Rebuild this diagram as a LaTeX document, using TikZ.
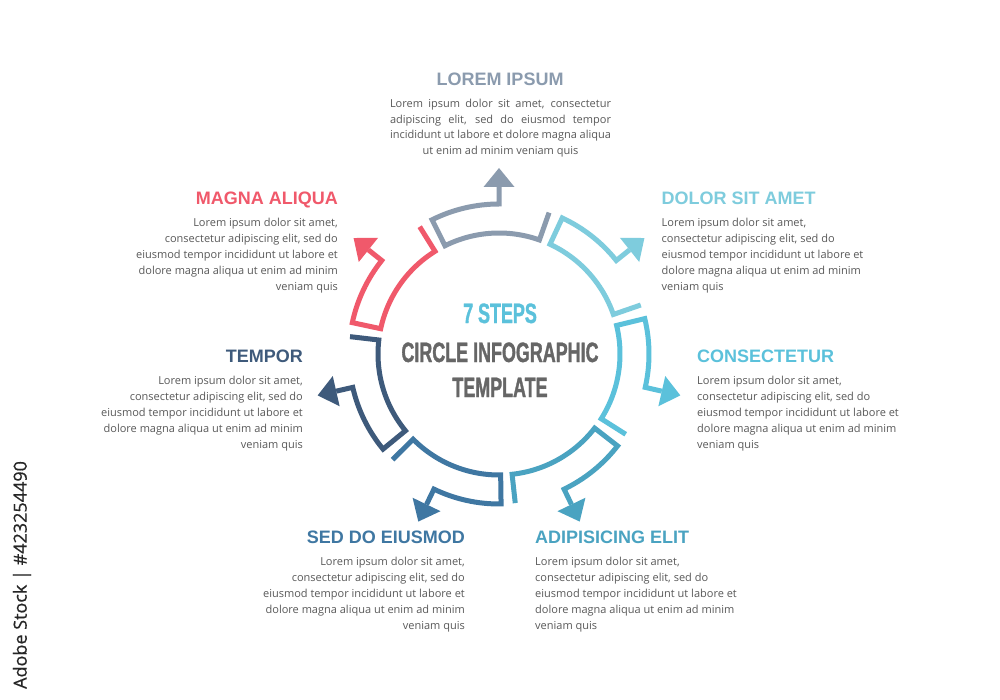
\documentclass[tikz,border=0pt]{standalone}
\usepackage{fontspec}
\setmainfont{Open Sans}
\newfontfamily\titlefont{Liberation Sans}
\newfontfamily\condfont[FakeStretch=0.64,FakeBold=1.2]{Liberation Sans}
\newfontfamily\sidefont[FakeBold=0.6]{Open Sans}
\definecolor{cA}{HTML}{8B9BAE}
\definecolor{cB}{HTML}{7ECCDD}
\definecolor{cC}{HTML}{5BC1DB}
\definecolor{cD}{HTML}{4AA3C1}
\definecolor{cE}{HTML}{3F77A2}
\definecolor{cF}{HTML}{3E5A7B}
\definecolor{cG}{HTML}{F0596B}
\definecolor{bodygray}{HTML}{595959}
\definecolor{centergray}{HTML}{666666}
\begin{document}
\begin{tikzpicture}[x=1pt,y=-1pt,
  segline/.style={line width=5pt, line join=miter, draw=#1},
  ttl/.style={font=\titlefont\bfseries\fontsize{18}{20}\selectfont, inner sep=0pt, text=#1},
  bodytext/.style={font=\fontsize{11}{16}\selectfont, inner sep=0pt, text=bodygray},
  centertext/.style={font=\condfont\bfseries\fontsize{28}{30}\selectfont, inner sep=0pt, text=#1, anchor=base}]
\useasboundingbox (0,0) rectangle (1000,700);
\fill[white] (0,0) rectangle (1000,700);

% seven segments
\foreach \k/\col in {0/cA,1/cB,2/cC,3/cD,4/cE,5/cF,6/cG}{
  \begin{scope}[shift={(499,354)}, rotate={90-\k*360/7}]
    \draw[segline=\col] (19.5:150) -- (19.5:121)
      arc[start angle=19.5, end angle=-26.5, radius=121] -- (-26.5:150)
      arc[start angle=-26.5, end angle=0, radius=150] -- (167,0);
    \fill[\col] (186,0) -- (167,15.5) -- (167,-15.5) -- cycle;
  \end{scope}
}

% centre text
\node[centertext=cC] (c1) at (500,323) {7 STEPS};
\node[centertext=centergray] (c2) at (500,362) {CIRCLE INFOGRAPHIC};
\node[centertext=centergray] (c3) at (500,397) {TEMPLATE};

% top
\node[ttl=cA, anchor=base] (t0) at (500,85.5) {LOREM IPSUM};
\node[bodytext, font=\fontsize{11}{15.8}\selectfont, anchor=base] (b0) at (500.5,107.3) {\begin{tabular}[t]{@{}c@{}}
\makebox[221pt][s]{Lorem ipsum dolor sit amet, consectetur}\\
\makebox[221pt][s]{adipiscing elit, sed do eiusmod tempor}\\
\makebox[221pt][s]{incididunt ut labore et dolore magna aliqua}\\
ut enim ad minim veniam quis\end{tabular}};

% left side
\node[ttl=cG, anchor=base east] (t6) at (338,204.5) {MAGNA ALIQUA};
\node[bodytext, anchor=base east] (b6) at (338,226.7) {\begin{tabular}[t]{@{}r@{}}
Lorem ipsum dolor sit amet,\\ consectetur adipiscing elit, sed do\\ eiusmod tempor incididunt ut labore et\\ dolore magna aliqua ut enim ad minim\\ veniam quis\end{tabular}};

\node[ttl=cF, anchor=base east] (t5) at (303,362.5) {TEMPOR};
\node[bodytext, anchor=base east] (b5) at (303,384.7) {\begin{tabular}[t]{@{}r@{}}
Lorem ipsum dolor sit amet,\\ consectetur adipiscing elit, sed do\\ eiusmod tempor incididunt ut labore et\\ dolore magna aliqua ut enim ad minim\\ veniam quis\end{tabular}};

\node[ttl=cE, anchor=base east] (t4) at (465,543) {SED DO EIUSMOD};
\node[bodytext, anchor=base east] (b4) at (465,565.7) {\begin{tabular}[t]{@{}r@{}}
Lorem ipsum dolor sit amet,\\ consectetur adipiscing elit, sed do\\ eiusmod tempor incididunt ut labore et\\ dolore magna aliqua ut enim ad minim\\ veniam quis\end{tabular}};

% right side
\node[ttl=cB, anchor=base west] (t1) at (661.5,204.5) {DOLOR SIT AMET};
\node[bodytext, anchor=base west] (b1) at (661.5,226.7) {\begin{tabular}[t]{@{}l@{}}
Lorem ipsum dolor sit amet,\\ consectetur adipiscing elit, sed do\\ eiusmod tempor incididunt ut labore et\\ dolore magna aliqua ut enim ad minim\\ veniam quis\end{tabular}};

\node[ttl=cC, anchor=base west] (t2) at (697,362.5) {CONSECTETUR};
\node[bodytext, anchor=base west] (b2) at (697,384.7) {\begin{tabular}[t]{@{}l@{}}
Lorem ipsum dolor sit amet,\\ consectetur adipiscing elit, sed do\\ eiusmod tempor incididunt ut labore et\\ dolore magna aliqua ut enim ad minim\\ veniam quis\end{tabular}};

\node[ttl=cD, anchor=base west] (t3) at (535,543) {ADIPISICING ELIT};
\node[bodytext, anchor=base west] (b3) at (535,565.7) {\begin{tabular}[t]{@{}l@{}}
Lorem ipsum dolor sit amet,\\ consectetur adipiscing elit, sed do\\ eiusmod tempor incididunt ut labore et\\ dolore magna aliqua ut enim ad minim\\ veniam quis\end{tabular}};

% side label
\node[rotate=90, inner sep=0pt, font=\sidefont\fontsize{18}{20}\selectfont, text=black!85] (side) at (22,575) {Adobe Stock | \#423254490};
\end{tikzpicture}
\end{document}
